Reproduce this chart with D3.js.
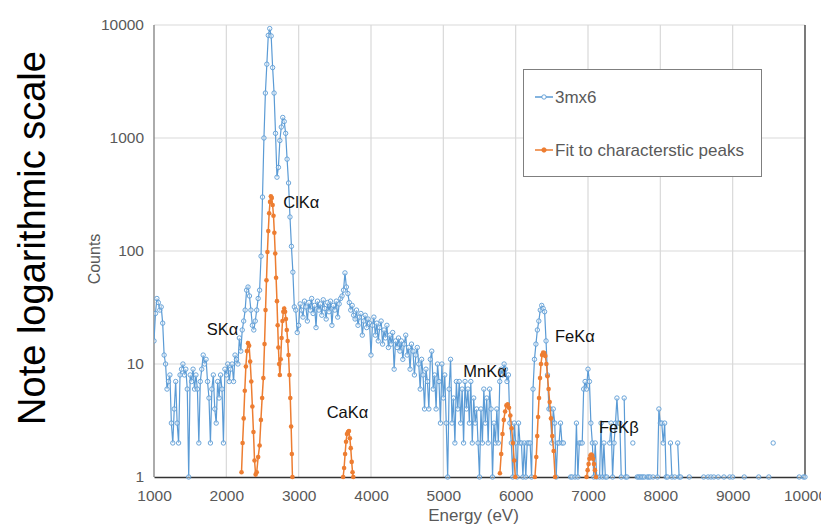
<!DOCTYPE html>
<html>
<head>
<meta charset="utf-8">
<script src="https://cdn.jsdelivr.net/npm/d3@7"></script>
<style>
  body { margin: 0; background: #fff; }
  svg { display: block; font-family: "Liberation Sans", Arial, sans-serif; }
</style>
</head>
<body>
<svg id="chart"></svg>
<script>
// spectrum channels, 20 eV apart starting at 1000 eV (null = zero counts)
const startEnergy = 1000;
const channelWidth = 20;
const counts = [
    16, 28, 38, 35, 30, 32, 23, 12, 10, 6,
    7, 8, 3, 2, 4, 7, 3, 2, 8, 9,
    10, 8, 9, 6, 1, 8, 7, 9, 6, 8,
    6, 2, 7, 9, 12, 10, 11, 7, 5, 2,
    6, 8, 4, 3, 7, 5, 8, 6, 2, 9,
    8, 10, 7, 9, 10, 7, 12, 11, 10, 17,
    13, 20, 24, 30, 45, 48, 40, 30, 22, 20,
    24, 30, 38, 45, 90, 300, 1000, 2500, 4500, 8100,
    9300, 8000, 4200, 2500, 1100, 450, 550, 950, 1250, 1520,
    1400, 1100, 650, 400, 200, 110, 65, 32, 30, 19,
    22, 34, 30, 26, 36, 32, 24, 35, 30, 38,
    28, 33, 21, 36, 30, 34, 27, 37, 31, 25,
    35, 29, 36, 22, 33, 30, 36, 26, 34, 38,
    40, 45, 64, 48, 42, 35, 30, 33, 27, 25,
    30, 22, 26, 28, 18, 24, 27, 21, 25, 23,
    12, 22, 26, 18, 23, 16, 21, 24, 15, 20,
    17, 22, 14, 18, 15, 19, 9, 16, 14, 17,
    13, 16, 11, 15, 18, 12, 14, 9, 15, 13,
    8, 12, 14, 10, 6, 11, 8, 4, 9, 7,
    4, 11, 13, 6, 8, 4, 10, 7, 3, 10,
    5, 8, 3, 1, 6, 11, 3, 5, 2, 7,
    4, 7, 3, 6, 2, 7, 4, 6, 3, 7,
    2, 5, 3, 4, 2, 1, 4, 2, 6, 3,
    5, 2, 6, 4, 1, 3, 2, 4, 2, 7,
    9, 8, 10, 9, 7, 8, 3, 2, 1, 3,
    2, 1, 3, 2, 2, 1, 2, 1, 2, 2,
    2, 1, 6, 11, 15, 20, 24, 30, 33, 31,
    29, 16, 8, 4, 4, 2, 4, 3, 1, 2,
    2, 3, 2, 2, null, null, null, null, 1, 1,
    null, 1, 3, 1, 2, 2, 2, 6, 7, 6,
    9, 7, 3, 2, 1, 2, 1, null, 1, 3,
    1, 2, 1, 1, null, 2, 3, 1, 2, 3,
    5, 3, 3, 1, null, 5, 1, 1, null, null,
    null, 2, null, null, 1, 1, 1, 1, 1, 1,
    null, 1, 1, 1, null, 1, null, null, 1, 4,
    3, 3, 2, 3, 1, 1, null, 2, 1, null,
    1, null, 2, 1, 1, null, null, null, null, null,
    1, null, null, null, null, null, null, null, null, null,
    1, null, null, 1, null, 1, null, 1, null, null,
    1, null, null, null, 1, null, null, null, 1, null,
    1, null, null, null, null, null, null, null, 1, null,
    null, null, null, null, null, null, null, null, 1, null,
    null, null, null, null, null, 1, null, null, 2, null,
    null, null, null, null, null, null, null, null, null, null,
    null, null, null, null, null, null, 1, null, null, 1,
    1
];

// fitted characteristic peaks (null separates peaks)
const fitEnergy = [
    2210, 2225, 2240, 2255, 2270, 2285, 2300, 2315, 2330, 2345, 2360, 2375, 2390, 2405, 2420,
    2440, 2460, 2478, 2495, 2512, 2528, 2542, 2555, 2568, 2580, 2592, 2604, 2616, 2628, 2640,
    2652, 2664, 2676, 2688, 2700, 2710, 2720, 2730, 2740, 2752, 2764, 2776, 2788, 2800, 2812,
    2824, 2836, 2848, 2860, 2872, 2884, 2896, 2906, 2914,
    null,
    3615, 3628, 3642, 3655, 3668, 3682, 3695, 3708, 3720, 3733, 3745, 3755,
    null,
    5782, 5800, 5818, 5836, 5854, 5872, 5890, 5908, 5926, 5944, 5962, 5980, 5995,
    null,
    6266, 6285, 6298, 6310, 6323, 6337, 6350, 6365, 6380, 6395, 6410, 6425, 6440, 6455, 6470,
    6488, 6506, 6525, 6545,
    null,
    6980, 6995, 7008, 7020, 7033, 7046, 7058, 7070, 7083, 7096, 7110
];
const fitCounts = [
    1.1, 2, 3.3, 5.8, 9.5, 13, 15.3, 14.5, 10.5, 7, 4.2, 2.5, 1.4, 1.05, 1.1,
    1.5, 1.9, 3.2, 5, 7.5, 15, 30, 55, 98, 150, 216, 272, 305, 295, 255,
    205, 145, 95, 58, 36, 22, 14, 10, 8, 11, 17, 24, 29, 31, 29,
    25, 20, 16, 12, 8, 5, 2.8, 1.6, 1.0,
    null,
    1, 1.2, 1.6, 2.05, 2.4, 2.5, 2.55, 2.2, 1.8, 1.36, 1.1, 1,
    null,
    1.08, 1.6, 2.4, 3.2, 3.8, 4.3, 4.4, 4.1, 3.5, 2.7, 2.0, 1.4, 1.0,
    null,
    1, 1.5, 2.3, 3.4, 5, 7.5, 10, 12, 12.6, 12.5, 11.8, 10, 7.8, 6, 4.6,
    3.3, 2.3, 1.7, 1,
    null,
    1, 1.15, 1.3, 1.45, 1.55, 1.58, 1.55, 1.45, 1.3, 1.15, 1.0
];

const xTicks = [1000, 2000, 3000, 4000, 5000, 6000, 7000, 8000, 9000, 10000];
const yTicks = [1, 10, 100, 1000, 10000];

const peakLabels = ["SKα", "ClKα", "CaKα", "MnKα", "FeKα", "FeKβ"];
const peakLabelEnergy = [1728, 2787, 3387, 5275, 6543, 7151];
const peakLabelCounts = [18.1, 239, 3.31, 7.63, 15.7, 2.47];

const seriesNames = ["3mx6", "Fit to characterstic peaks"];
const seriesColors = ["#5B9BD5", "#ED7D31"];

const width = 821;
const height = 524;
const plotLeft = 154, plotRight = 805, plotTop = 25, plotBottom = 477;

const svg = d3.select("#chart")
    .attr("width", width)
    .attr("height", height);

const x = d3.scaleLinear().domain([1000, 10000]).range([plotLeft, plotRight]);
const y = d3.scaleLog().domain([1, 10000]).range([plotBottom, plotTop]);

const spectrum = counts.map((v, i) => ({ e: startEnergy + i * channelWidth, v: v }));
const fit = fitEnergy.map((e, i) => ({ e: e, v: fitCounts[i] }));

// gridlines
svg.append("g")
    .selectAll("line")
    .data(yTicks.slice(1))
    .enter()
    .append("line")
    .attr("x1", plotLeft).attr("x2", plotRight)
    .attr("y1", d => y(d)).attr("y2", d => y(d))
    .attr("stroke", "#d9d9d9").attr("stroke-width", 1.2);

svg.append("g")
    .selectAll("line")
    .data(xTicks.slice(1, -1))
    .enter()
    .append("line")
    .attr("x1", d => x(d)).attr("x2", d => x(d))
    .attr("y1", plotTop).attr("y2", plotBottom)
    .attr("stroke", "#d9d9d9").attr("stroke-width", 1.2);

// plot borders
svg.append("line")
    .attr("x1", plotRight).attr("x2", plotRight).attr("y1", plotTop).attr("y2", plotBottom)
    .attr("stroke", "#333").attr("stroke-width", 1.3);
svg.append("line")
    .attr("x1", plotLeft).attr("x2", plotLeft).attr("y1", plotTop).attr("y2", plotBottom)
    .attr("stroke", "#7f7f7f").attr("stroke-width", 1.3);

// axes
const xAxis = svg.append("g")
    .attr("transform", `translate(0, ${plotBottom})`)
    .call(d3.axisBottom(x).tickValues(xTicks).tickSize(0).tickPadding(13).tickFormat(d3.format("d")));
xAxis.select(".domain").attr("stroke", "#333").attr("stroke-width", 1.3);

const yAxis = svg.append("g")
    .attr("transform", `translate(${plotLeft - 10}, 0)`)
    .call(d3.axisLeft(y).tickValues(yTicks).tickSize(0).tickPadding(0).tickFormat(d3.format("d")));
yAxis.select(".domain").remove();

svg.selectAll(".tick text")
    .attr("fill", "#595959")
    .style("font-size", "15.5px")
    .style("font-family", "'Liberation Sans', Arial, sans-serif");

svg.append("text")
    .attr("x", (plotLeft + plotRight) / 2 - 6)
    .attr("y", 521)
    .attr("text-anchor", "middle")
    .attr("fill", "#595959")
    .style("font-size", "17px")
    .text("Energy (eV)");

svg.append("text")
    .attr("transform", `translate(100, ${(plotTop + plotBottom) / 2 + 8}) rotate(-90)`)
    .attr("text-anchor", "middle")
    .attr("fill", "#595959")
    .style("font-size", "16px")
    .text("Counts");

svg.append("text")
    .attr("transform", `translate(45, 238) rotate(-90)`)
    .attr("text-anchor", "middle")
    .attr("fill", "#000")
    .style("font-size", "38px")
    .text("Note logarithmic scale");

// data
svg.append("clipPath").attr("id", "plot")
    .append("rect")
    .attr("x", plotLeft).attr("y", plotTop - 4)
    .attr("width", plotRight - plotLeft + 4).attr("height", plotBottom - plotTop + 8);

const plot = svg.append("g").attr("clip-path", "url(#plot)");

const line = d3.line()
    .defined(d => d.v != null)
    .x(d => x(d.e))
    .y(d => y(d.v));

plot.append("path")
    .datum(spectrum)
    .attr("d", line)
    .attr("fill", "none")
    .attr("stroke", seriesColors[0])
    .attr("stroke-width", 1.2);

plot.selectAll(".bubble")
    .data(spectrum.filter(d => d.v != null))
    .enter()
    .append("circle")
    .attr("class", "bubble")
    .attr("cx", d => x(d.e))
    .attr("cy", d => y(d.v))
    .attr("r", 2.2)
    .attr("fill", "#fff")
    .attr("fill-opacity", 0.4)
    .attr("stroke", seriesColors[0])
    .attr("stroke-width", 0.9);

plot.append("path")
    .datum(fit)
    .attr("d", line)
    .attr("fill", "none")
    .attr("stroke", seriesColors[1])
    .attr("stroke-width", 1.5);

plot.selectAll(".fitdot")
    .data(fit.filter(d => d.v != null))
    .enter()
    .append("circle")
    .attr("class", "fitdot")
    .attr("cx", d => x(d.e))
    .attr("cy", d => y(d.v))
    .attr("r", 2.3)
    .attr("fill", seriesColors[1]);

// peak labels
svg.append("g")
    .selectAll("text")
    .data(peakLabels)
    .enter()
    .append("text")
    .attr("x", (d, i) => x(peakLabelEnergy[i]))
    .attr("y", (d, i) => y(peakLabelCounts[i]))
    .attr("fill", "#111")
    .style("font-size", "16.5px")
    .text(d => d);

// legend
const legend = svg.append("g");
legend.append("rect")
    .attr("x", 523.5).attr("y", 69.5)
    .attr("width", 238).attr("height", 107)
    .attr("fill", "#fff")
    .attr("stroke", "#7f7f7f");

const rows = legend.selectAll(".row")
    .data(seriesNames)
    .enter()
    .append("g")
    .attr("class", "row")
    .attr("transform", (d, i) => `translate(535, ${97 + i * 53})`);

rows.append("line")
    .attr("x1", 0).attr("x2", 18)
    .attr("stroke", (d, i) => seriesColors[i])
    .attr("stroke-width", 1.5);

rows.append("circle")
    .attr("cx", 9)
    .attr("r", 2.2)
    .attr("fill", (d, i) => i === 0 ? "#fff" : seriesColors[i])
    .attr("stroke", (d, i) => seriesColors[i])
    .attr("stroke-width", 0.9);

rows.append("text")
    .attr("x", 20)
    .attr("dy", "0.35em")
    .attr("fill", "#595959")
    .style("font-size", "17px")
    .text(d => d);
</script>
</body>
</html>
